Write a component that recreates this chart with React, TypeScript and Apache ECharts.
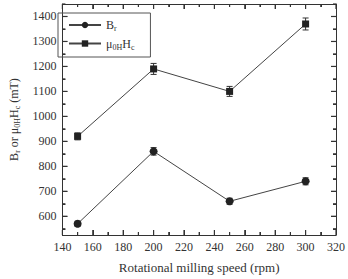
import React, { useEffect, useRef } from "react";
import * as echarts from "echarts";

const speeds = [150, 200, 250, 300];
const brValues = [570, 860, 660, 740];
const brErrors = [10, 15, 12, 14];
const hcValues = [920, 1190, 1100, 1370];
const hcErrors = [14, 22, 20, 24];
const seriesNames = ["Br", "Hc"];
const xMajorTicks = [140, 160, 180, 200, 220, 240, 260, 280, 300, 320];
const xMinorTicks = [150, 170, 190, 210, 230, 250, 270, 290, 310];
const yMajorTicks = [600, 700, 800, 900, 1000, 1100, 1200, 1300, 1400];
const yMinorTicks = [550, 650, 750, 850, 950, 1050, 1150, 1250, 1350, 1450];

const FONT = "Liberation Serif";
const INK = "#333333";
const SUB = { fontSize: 8, fontFamily: FONT, color: INK, padding: [7, 0, 0, 0] };

function errorSeries(name: string, values: number[], errors: number[]) {
  return {
    type: "custom",
    name: name + "_err",
    xAxisIndex: 0,
    yAxisIndex: 0,
    silent: true,
    z: 3,
    data: speeds.map((s, i) => [s, values[i] - errors[i], values[i] + errors[i]]),
    renderItem: (params: any, api: any) => {
      const lo = api.coord([api.value(0), api.value(1)]);
      const hi = api.coord([api.value(0), api.value(2)]);
      const cap = 3;
      const style = { stroke: INK, lineWidth: 1 };
      return {
        type: "group",
        children: [
          { type: "line", shape: { x1: lo[0], y1: lo[1], x2: hi[0], y2: hi[1] }, style },
          { type: "line", shape: { x1: lo[0] - cap, y1: lo[1], x2: lo[0] + cap, y2: lo[1] }, style },
          { type: "line", shape: { x1: hi[0] - cap, y1: hi[1], x2: hi[0] + cap, y2: hi[1] }, style },
        ],
      };
    },
  };
}

const tickSeries = {
  type: "custom",
  name: "ticks",
  xAxisIndex: 0,
  yAxisIndex: 0,
  silent: true,
  clip: false,
  z: 5,
  data: [[200, 1000]],
  renderItem: (params: any, api: any) => {
    const cs = params.coordSys;
    const top = cs.y;
    const bottom = cs.y + cs.height;
    const left = cs.x;
    const right = cs.x + cs.width;
    const style = { stroke: INK, lineWidth: 1.2 };
    const children: any[] = [];
    const addX = (v: number, len: number) => {
      const x = api.coord([v, 1000])[0];
      children.push({ type: "line", shape: { x1: x, y1: bottom, x2: x, y2: bottom - len }, style });
      children.push({ type: "line", shape: { x1: x, y1: top, x2: x, y2: top + len }, style });
    };
    const addY = (v: number, len: number) => {
      const y = api.coord([200, v])[1];
      children.push({ type: "line", shape: { x1: left, y1: y, x2: left + len, y2: y }, style });
      children.push({ type: "line", shape: { x1: right, y1: y, x2: right - len, y2: y }, style });
    };
    xMajorTicks.forEach((v) => addX(v, 5));
    xMinorTicks.forEach((v) => addX(v, 3));
    yMajorTicks.forEach((v) => addY(v, 5));
    yMinorTicks.forEach((v) => addY(v, 3));
    return { type: "group", children };
  },
};

export default function App() {
  const ref = useRef<HTMLDivElement>(null);
  useEffect(() => {
    if (!ref.current) return;
    const chart = echarts.init(ref.current, undefined, { renderer: "svg" });
    const plain = (v: number) => String(v);
    const tick = { show: true, inside: true, length: 5, lineStyle: { color: INK, width: 1 } };
    const minor = { show: true, splitNumber: 2, length: 3, lineStyle: { color: INK, width: 1 } };
    const mkX = (pos: string, labels: boolean) => ({
      type: "value",
      position: pos,
      min: 140,
      max: 320,
      interval: 20,
      splitLine: { show: false },
      axisLine: { show: true, onZero: false, lineStyle: { color: INK, width: 1 } },
      axisTick: tick,
      minorTick: minor,
      axisLabel: labels
        ? { show: true, color: INK, fontSize: 12, fontFamily: FONT, margin: 6, formatter: plain }
        : { show: false },
    });
    const mkY = (pos: string, labels: boolean) => ({
      type: "value",
      position: pos,
      min: 525,
      max: 1450,
      splitNumber: 9,
      splitLine: { show: false },
      axisLine: { show: true, onZero: false, lineStyle: { color: INK, width: 1 } },
      axisTick: tick,
      minorTick: minor,
      axisLabel: labels
        ? { show: true, color: INK, fontSize: 12, fontFamily: FONT, margin: 6, formatter: plain, showMinLabel: false, showMaxLabel: false }
        : { show: false },
    });
    chart.setOption({
      animation: false,
      backgroundColor: "#fff",
      textStyle: { fontFamily: FONT },
      grid: { left: 51, right: 6, top: 4, bottom: 37 },
      legend: {
        left: 58,
        top: 13,
        orient: "vertical",
        padding: [6, 16, 6, 10],
        itemWidth: 32,
        itemHeight: 8,
        itemGap: 5,
        borderColor: "#555",
        borderWidth: 1,
        data: seriesNames,
        textStyle: { fontFamily: FONT, fontSize: 12, color: INK, rich: { sub: SUB } },
        formatter: (n: string) => (n === "Br" ? "B{sub|r}" : "μ{sub|0H}H{sub|c}"),
      },
      xAxis: [
        {
          ...mkX("bottom", true),
          name: "Rotational milling speed (rpm)",
          nameLocation: "middle",
          nameGap: 26,
          nameTextStyle: { color: INK, fontSize: 13, fontFamily: FONT },
        },
        mkX("top", false),
      ],
      yAxis: [
        {
          ...mkY("left", true),
          name: "B{sub|r} or μ{sub|0H}H{sub|c} (mT)",
          nameLocation: "middle",
          nameGap: 36,
          nameTextStyle: { color: INK, fontSize: 12, fontFamily: FONT, rich: { sub: SUB } },
        },
        mkY("right", false),
      ],
      series: [
        {
          type: "line",
          name: "Br",
          xAxisIndex: 0,
          yAxisIndex: 0,
          data: speeds.map((s, i) => [s, brValues[i]]),
          symbol: "circle",
          symbolSize: 8,
          z: 4,
          itemStyle: { color: "#222" },
          lineStyle: { color: "#444", width: 1 },
        },
        {
          type: "line",
          name: "Hc",
          xAxisIndex: 0,
          yAxisIndex: 0,
          data: speeds.map((s, i) => [s, hcValues[i]]),
          symbol: "rect",
          symbolSize: 7,
          z: 4,
          itemStyle: { color: "#222" },
          lineStyle: { color: "#444", width: 1 },
        },
        errorSeries("Br", brValues, brErrors),
        errorSeries("Hc", hcValues, hcErrors),
        tickSeries,
      ],
    });
    return () => chart.dispose();
  }, []);
  return <div ref={ref} style={{ width: 348, height: 279, position: "absolute", left: 0, top: 0 }} />;
}
